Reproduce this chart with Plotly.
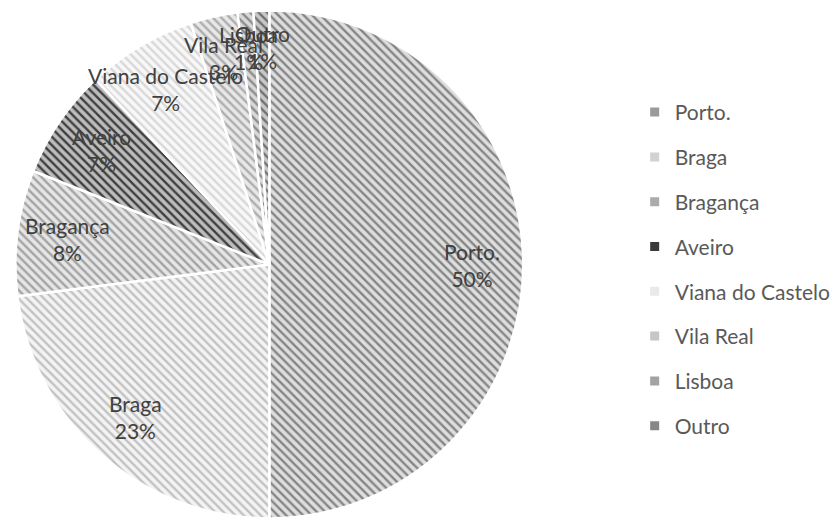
import math
import plotly.graph_objects as go

# District shares (percent)
labels = ["Porto.", "Braga", "Bragança", "Aveiro", "Viana do Castelo", "Vila Real", "Lisboa", "Outro"]
values = [50, 23, 8, 7, 7, 3, 1, 1]

# Hatched fills: stripe colour and background colour per slice
stripe_colors = ["#858585", "#c2c2c2", "#a3a3a3", "#3f3f3f", "#d8d8d8", "#adadad", "#8c8c8c", "#727272"]
back_colors = ["#dedede", "#f4f4f4", "#e6e6e6", "#bdbdbd", "#f8f8f8", "#e8e8e8", "#d8d8d8", "#c8c8c8"]
legend_colors = ["#9a9a9a", "#d2d2d2", "#ababab", "#3a3a3a", "#e9e9e9", "#c6c6c6", "#a3a3a3", "#878787"]

# Radial placement of each data label, as a fraction of the pie radius
label_radius = [0.8, 0.8, 0.8, 0.8, 0.8, 0.83, 0.855, 0.855]

FONT = "Lato, 'Open Sans', sans-serif"
W, H = 836, 519
MARGIN = dict(l=0, r=0, t=10, b=0)
PIE_DOMAIN = dict(x=[0.0185, 0.6274], y=[0, 1])

fig = go.Figure()

fig.add_trace(go.Pie(
    labels=labels,
    values=values,
    sort=False,
    direction="clockwise",
    rotation=0,
    showlegend=False,
    domain=PIE_DOMAIN,
    textinfo="none",
    hoverinfo="label+percent",
    marker=dict(
        colors=back_colors,
        line=dict(color="white", width=2.5),
        pattern=dict(
            shape="\\",
            fgcolor=stripe_colors,
            bgcolor=back_colors,
            size=6,
            solidity=0.4,
            fillmode="replace",
        ),
    ),
))

# Data labels: placed along each slice's mid-angle, drawn above all slices
plot_w = W - MARGIN["l"] - MARGIN["r"]
plot_h = H - MARGIN["t"] - MARGIN["b"]
dom_w = (PIE_DOMAIN["x"][1] - PIE_DOMAIN["x"][0]) * plot_w
dom_h = (PIE_DOMAIN["y"][1] - PIE_DOMAIN["y"][0]) * plot_h
radius = min(dom_w, dom_h) / 2
cx = sum(PIE_DOMAIN["x"]) / 2
cy = sum(PIE_DOMAIN["y"]) / 2
total = sum(values)
start = 0.0
for name, v, k in zip(labels, values, label_radius):
    mid = (start + v / 2) / total * 2 * math.pi  # clockwise from 12 o'clock
    start += v
    fig.add_annotation(
        x=cx + k * radius * math.sin(mid) / plot_w,
        y=cy + k * radius * math.cos(mid) / plot_h,
        xref="paper", yref="paper",
        text=f"{name}<br>{round(v / total * 100)}%",
        showarrow=False,
        xanchor="center", yanchor="middle",
        font=dict(family=FONT, size=21, color="#404040"),
    )

# Legend entries, one group per district so the rows can be spaced out
for i, (name, col) in enumerate(zip(labels, legend_colors)):
    fig.add_trace(go.Scatter(
        x=[None], y=[None],
        mode="markers",
        name=name,
        legendgroup=f"g{i}",
        marker=dict(symbol="square", size=9, color=col),
        hoverinfo="skip",
    ))

fig.update_layout(
    width=W,
    height=H,
    margin=MARGIN,
    paper_bgcolor="white",
    plot_bgcolor="white",
    xaxis=dict(visible=False),
    yaxis=dict(visible=False),
    font=dict(family=FONT, color="#595959"),
    legend=dict(
        x=0.761,
        y=0.839,
        xanchor="left",
        yanchor="top",
        font=dict(family=FONT, size=21, color="#595959"),
        tracegroupgap=14.5,
        itemwidth=30,
        bgcolor="rgba(0,0,0,0)",
    ),
)

fig.write_html("out.html")
